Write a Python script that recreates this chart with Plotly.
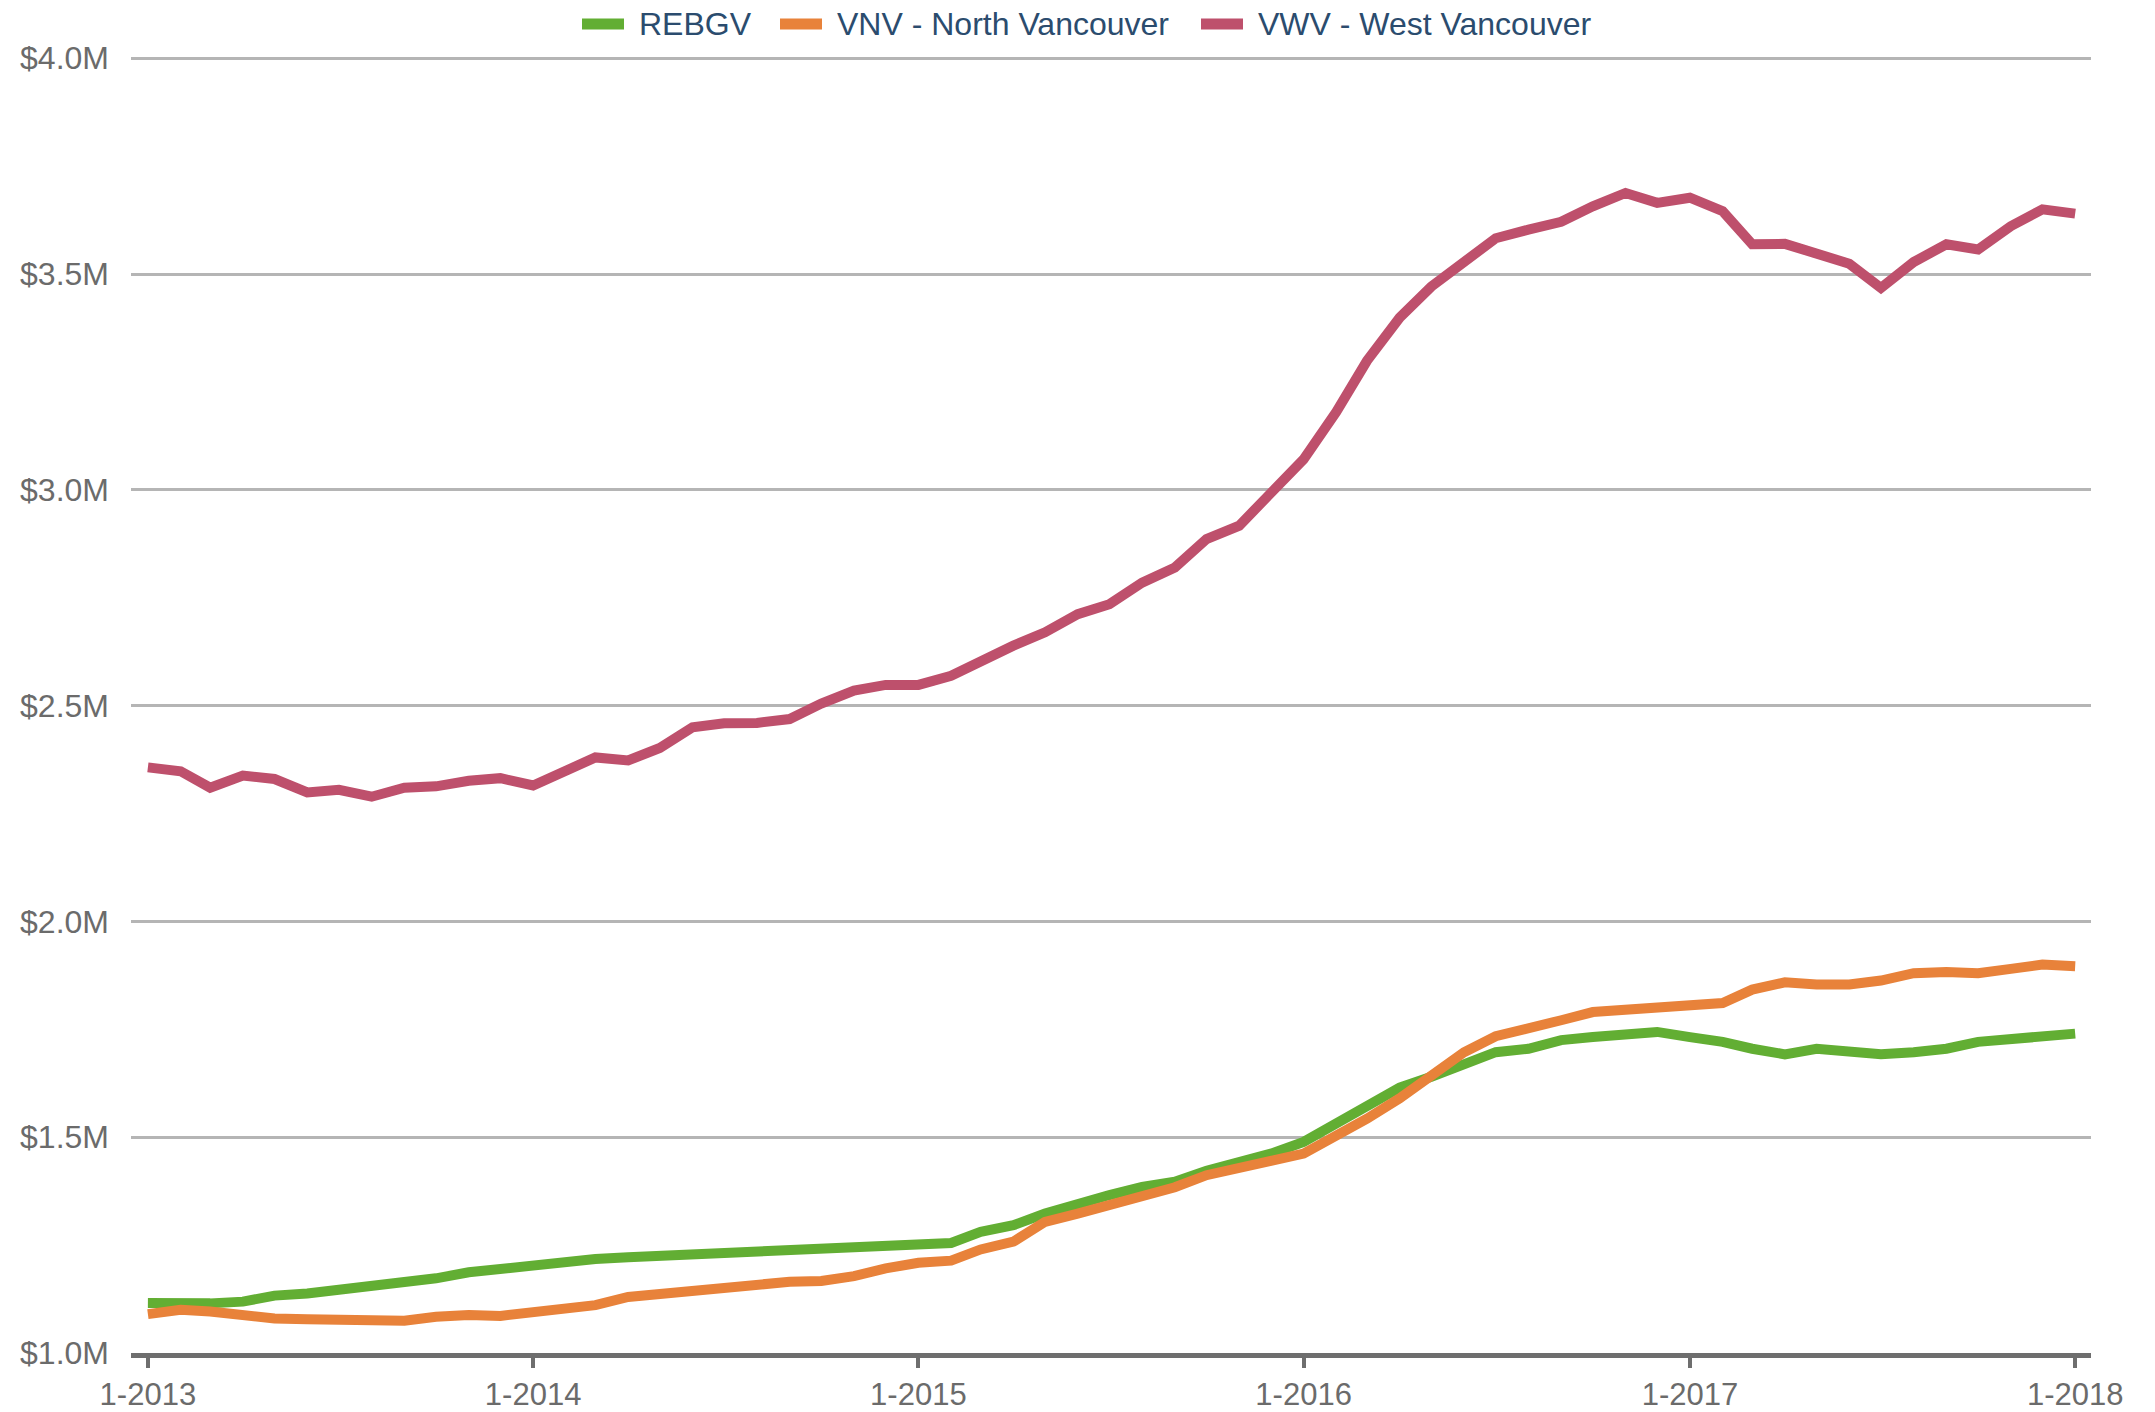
import pandas as pd
import plotly.graph_objects as go

months = pd.date_range("2013-01-01", periods=61, freq="MS")

tick_dates = ["2013-01-01", "2014-01-01", "2015-01-01", "2016-01-01", "2017-01-01", "2018-01-01"]
tick_labels = ["1-2013", "1-2014", "1-2015", "1-2016", "1-2017", "1-2018"]

series_names = ["REBGV", "VNV - North Vancouver", "VWV - West Vancouver"]
series_colors = ["#62ae33", "#e8823a", "#be506c"]

# benchmark prices, millions of dollars
rebgv = [1.116, 1.113, 1.115, 1.119, 1.133, 1.138, 1.146, 1.153, 1.161, 1.173, 1.187, 1.196,
         1.204, 1.215, 1.218, 1.222, 1.225, 1.232, 1.234, 1.237, 1.241, 1.244, 1.245, 1.248,
         1.250, 1.255, 1.281, 1.296, 1.323, 1.347, 1.366, 1.385, 1.397, 1.422, 1.443, 1.462,
         1.489, 1.530, 1.572, 1.615, 1.640, 1.671, 1.697, 1.705, 1.725, 1.732, 1.740, 1.744,
         1.732, 1.721, 1.705, 1.692, 1.705, 1.697, 1.692, 1.697, 1.705, 1.721, 1.728, 1.731,
         1.740]
vnv = [1.090, 1.100, 1.096, 1.088, 1.080, 1.078, 1.076, 1.074, 1.075, 1.084, 1.088, 1.086,
       1.096, 1.107, 1.111, 1.130, 1.137, 1.144, 1.152, 1.157, 1.165, 1.167, 1.178, 1.196,
       1.209, 1.214, 1.240, 1.258, 1.304, 1.323, 1.343, 1.358, 1.384, 1.412, 1.431, 1.445,
       1.462, 1.502, 1.543, 1.590, 1.644, 1.697, 1.734, 1.755, 1.771, 1.790, 1.796, 1.803,
       1.805, 1.811, 1.842, 1.859, 1.854, 1.854, 1.863, 1.880, 1.883, 1.880, 1.890, 1.900,
       1.896]
vwv = [2.357, 2.348, 2.310, 2.338, 2.330, 2.299, 2.305, 2.289, 2.310, 2.313, 2.326, 2.332,
       2.315, 2.348, 2.380, 2.373, 2.402, 2.450, 2.459, 2.460, 2.469, 2.505, 2.535, 2.548,
       2.548, 2.569, 2.604, 2.639, 2.670, 2.712, 2.735, 2.785, 2.820, 2.886, 2.917, 2.990,
       3.071, 3.181, 3.299, 3.399, 3.471, 3.528, 3.583, 3.603, 3.621, 3.657, 3.688, 3.665,
       3.677, 3.646, 3.569, 3.570, 3.549, 3.524, 3.468, 3.528, 3.569, 3.557, 3.611, 3.650,
       3.640]

FONT = "Liberation Sans, Arial, Helvetica, sans-serif"
OFF = 8  # default body margin of the html page
W, H = 2155 - OFF, 1412 - OFF
ML, MR, MT, MB = 131 - OFF, 64, 57 - OFF, 59
PW, PH = W - ML - MR, H - MT - MB


def px_x(px):
    return (px - OFF - ML) / PW


def px_y(py):
    return (H - MB - (py - OFF)) / PH


fig = go.Figure()
for name, color, vals in zip(series_names, series_colors, [rebgv, vnv, vwv]):
    fig.add_trace(go.Scatter(
        x=months, y=vals, name=name, mode="lines",
        line=dict(color=color, width=10),
        showlegend=False,
    ))

# custom legend (swatch + label) placed above the plot
legend_swatch_px = [582, 780, 1201]
shapes, annotations = [], []
for name, color, sx in zip(series_names, series_colors, legend_swatch_px):
    shapes.append(dict(
        type="rect", xref="paper", yref="paper",
        x0=px_x(sx), x1=px_x(sx + 42), y0=px_y(29.5), y1=px_y(18.5),
        fillcolor=color, line=dict(width=0),
    ))
    annotations.append(dict(
        text=name, xref="paper", yref="paper",
        x=px_x(sx + 55), y=px_y(24), xanchor="left", yanchor="middle",
        showarrow=False, font=dict(family=FONT, size=32, color="#2b4c6e"),
    ))

fig.update_layout(
    width=W, height=H,
    margin=dict(l=ML, r=MR, t=MT, b=MB, autoexpand=False),
    paper_bgcolor="white", plot_bgcolor="white",
    font=dict(family=FONT, size=31, color="#6b6b6b"),
    showlegend=False,
    shapes=shapes, annotations=annotations,
    xaxis=dict(
        range=["2012-12-16", "2018-01-16"],
        tickvals=tick_dates, ticktext=tick_labels,
        showgrid=False, zeroline=False,
        showline=True, linecolor="#6e6e6e", linewidth=5,
        ticks="outside", ticklen=10, tickwidth=4, tickcolor="#6e6e6e",
        tickfont=dict(family=FONT, size=31, color="#6b6b6b"),
    ),
    yaxis=dict(
        range=[1.0, 4.003], dtick=0.5, tick0=1.0,
        tickformat=".1f", tickprefix="$", ticksuffix="M",
        showgrid=True, gridcolor="#b5b5b5", gridwidth=3,
        zeroline=False, showline=False, ticks="",
        ticklabelstandoff=21,
        tickfont=dict(family=FONT, size=32, color="#6b6b6b"),
    ),
)

fig.write_html("out.html")
